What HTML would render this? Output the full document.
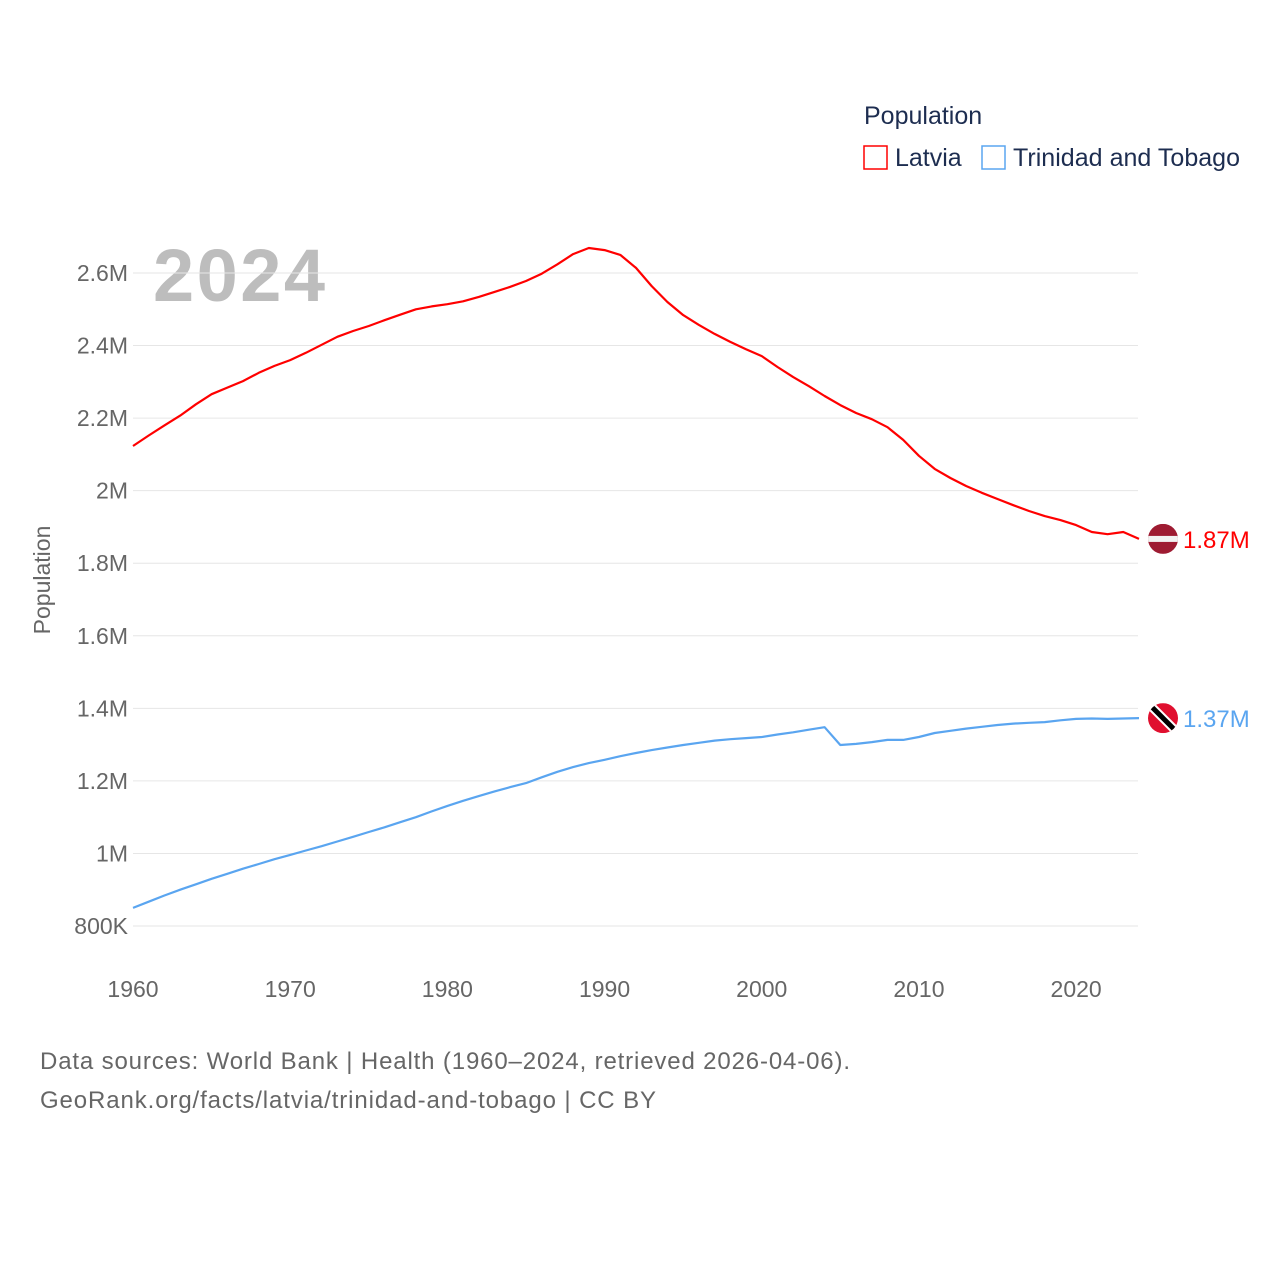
<!DOCTYPE html>
<html><head><meta charset="utf-8"><style>
body{margin:0;background:#fff;font-family:"Liberation Sans",sans-serif}
svg text{font-family:"Liberation Sans",sans-serif}
</style></head><body>
<svg id="c" width="1280" height="1280" viewBox="0 0 1280 1280">
<text x="864" y="124" font-size="25" fill="#1d2d50">Population</text>
<g><rect x="864" y="146" width="23" height="23" fill="none" stroke="#ff0000" stroke-width="1.5"/><text x="895" y="166" font-size="25" fill="#1d2d50">Latvia</text></g>
<g><rect x="982" y="146" width="23" height="23" fill="none" stroke="#5aa5f0" stroke-width="1.5"/><text x="1013" y="166" font-size="25" fill="#1d2d50" textLength="227">Trinidad and Tobago</text></g>
<text x="153" y="301" font-size="74" font-weight="bold" fill="#bdbdbd" textLength="172">2024</text>
<text transform="translate(50,580) rotate(-90)" text-anchor="middle" font-size="23" fill="#666">Population</text>
<g id="grid"></g><g id="lines"></g><g id="ends"></g>
<text x="40" y="1069" font-size="24" fill="#666" textLength="810">Data sources: World Bank | Health (1960–2024, retrieved 2026-04-06).</text>
<text x="40" y="1108" font-size="24" fill="#666" textLength="616">GeoRank.org/facts/latvia/trinidad-and-tobago | CC BY</text>
</svg>
<script>
const years=[];for(let y=1960;y<=2024;y++)years.push(y);
const latvia=[2.123,2.152,2.180,2.207,2.238,2.266,2.284,2.302,2.325,2.344,2.360,2.380,2.402,2.424,2.440,2.454,2.470,2.485,2.500,2.508,2.514,2.522,2.534,2.548,2.562,2.578,2.598,2.624,2.652,2.669,2.663,2.650,2.614,2.564,2.520,2.484,2.457,2.432,2.410,2.390,2.371,2.341,2.313,2.288,2.261,2.236,2.214,2.197,2.175,2.140,2.096,2.060,2.035,2.013,1.994,1.977,1.960,1.944,1.930,1.919,1.905,1.886,1.880,1.886,1.867];
const tt=[0.850,0.867,0.884,0.900,0.915,0.930,0.944,0.958,0.971,0.984,0.996,1.008,1.020,1.033,1.046,1.059,1.072,1.086,1.100,1.116,1.131,1.145,1.158,1.171,1.183,1.194,1.210,1.225,1.238,1.249,1.258,1.268,1.277,1.285,1.292,1.299,1.305,1.311,1.315,1.318,1.321,1.328,1.334,1.341,1.348,1.299,1.302,1.307,1.313,1.313,1.321,1.332,1.338,1.344,1.349,1.354,1.358,1.360,1.362,1.367,1.371,1.372,1.371,1.372,1.373];
const yTicks=[0.8,1.0,1.2,1.4,1.6,1.8,2.0,2.2,2.4,2.6];
const yTickLabels=["800K","1M","1.2M","1.4M","1.6M","1.8M","2M","2.2M","2.4M","2.6M"];
const xTicks=[1960,1970,1980,1990,2000,2010,2020];
const X=y=>133+(y-1960)*(1139-133)/64;
const Y=v=>926-(v-0.8)*(926-273)/1.8;
const NS="http://www.w3.org/2000/svg";
function mk(t,a,p){const e=document.createElementNS(NS,t);for(const k in a)e.setAttribute(k,a[k]);p.appendChild(e);return e;}
const grid=document.getElementById('grid');
yTicks.forEach((v,i)=>{
 const l=mk('line',{x1:133,x2:1138,y1:Y(v),y2:Y(v),stroke:'#e6e6e6','stroke-width':1},grid);
 
 
 const t=mk('text',{x:128,y:Y(v)+8,'text-anchor':'end','font-size':23,fill:'#666'},grid);
 t.textContent=yTickLabels[i];
 
 
});
xTicks.forEach(y=>{
 const t=mk('text',{x:X(y),y:997,'text-anchor':'middle','font-size':23,fill:'#666'},grid);
 t.textContent=y;
 
 
});
const lines=document.getElementById('lines');
[[latvia,'#ff0000','latvia-line'],[tt,'#5aa5f0','trinidad-line']].forEach(([d,c,n])=>{
 const p=mk('path',{d:d.map((v,i)=>(i?'L':'M')+X(years[i]).toFixed(1)+','+Y(v).toFixed(1)).join(''),fill:'none',stroke:c,'stroke-width':2.2,'stroke-linejoin':'round'},lines);
 
 
});
const ends=document.getElementById('ends');
const ly=Y(latvia[latvia.length-1]), ty=Y(tt[tt.length-1]);
let g=mk('g',{},ends);


const cl=mk('clipPath',{id:'cl'},g);mk('circle',{cx:1163,cy:ly,r:15},cl);
mk('rect',{x:1148,y:ly-15,width:30,height:30,fill:'#9e1b32','clip-path':'url(#cl)'},g);
mk('rect',{x:1148,y:ly-3,width:30,height:6,fill:'#f2f2f2','clip-path':'url(#cl)'},g);
let t=mk('text',{x:1183,y:ly+9,'font-size':24,fill:'#ff0000'},ends);t.textContent='1.87M';


g=mk('g',{},ends);


const cp=mk('clipPath',{id:'ct'},g);mk('circle',{cx:1163,cy:ty,r:15},cp);
mk('rect',{x:1148,y:ty-15,width:30,height:30,fill:'#e0102f','clip-path':'url(#ct)'},g);
mk('line',{x1:1148,y1:ty-15,x2:1178,y2:ty+15,stroke:'#fff','stroke-width':9,'clip-path':'url(#ct)'},g);
mk('line',{x1:1148,y1:ty-15,x2:1178,y2:ty+15,stroke:'#000','stroke-width':5,'clip-path':'url(#ct)'},g);
t=mk('text',{x:1183,y:ty+9,'font-size':24,fill:'#5aa5f0'},ends);t.textContent='1.37M';


</script>
</body></html>
